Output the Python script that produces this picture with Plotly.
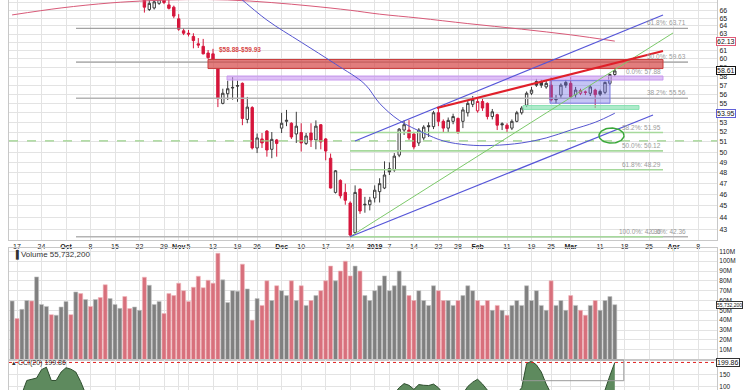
import numpy as np
import pandas as pd
import plotly.graph_objects as go

# ---------------- trading calendar ----------------
HOLIDAYS = ["2018-11-22", "2018-12-05", "2018-12-25", "2019-01-01", "2019-01-21", "2019-02-18"]
days = [d.strftime("%Y-%m-%d") for d in pd.bdate_range("2018-09-10", "2019-04-30")
        if d.strftime("%Y-%m-%d") not in HOLIDAYS]
base = days.index("2018-09-17")
pos = {d: i - base for i, d in enumerate(days)}

# ---------------- price data (Oct 23 2018 .. Mar 14 2019) ----------------
candle_dates = days[days.index("2018-10-23"):days.index("2019-03-14") + 1]
opens = [68.0, 66.1, 66.3, 66.9, 67.6, 66.7, 66.4, 64.9, 63.4, 63.1, 62.7, 61.8, 61.5, 60.7, 60.6,
         58.85, 55.0, 56.05, 56.75, 56.95, 57.2, 53.3, 54.55, 50.4, 51.3, 52.1, 50.27, 51.2, 52.4, 53.1,
         52.9, 51.8, 51.95, 50.85, 51.9, 51.2, 52.75, 51.3, 49.4, 46.2, 47.3, 46.2, 45.25, 42.7, 46.5,
         45.15, 45.1, 45.7, 46.27, 46.6, 48.4, 48.27, 49.7, 52.2, 52.2, 51.8, 50.9, 51.4, 52.65, 52.55,
         54.0, 53.1, 52.4, 53.1, 53.4, 53.1, 54.0, 54.9, 54.2, 55.2, 55.0, 53.6, 53.8, 52.85, 52.7,
         52.4, 53.1, 54.0, 54.8, 56.1, 57.4, 57.35, 56.8, 57.0, 55.5, 55.9, 57.3, 57.2, 55.95, 56.1,
         56.25, 56.1, 56.45, 56.3, 56.2, 57.2, 58.2]
highs = [68.5, 67.6, 67.6, 68.0, 68.2, 67.4, 66.6, 65.5, 63.7, 63.5, 63.1, 62.5, 62.4, 61.06, 61.2,
         58.88, 56.6, 57.5, 57.9, 57.5, 57.3, 55.7, 54.7, 51.85, 51.9, 52.2, 52.0, 51.3, 54.0, 54.3,
         53.0, 54.1, 52.9, 51.9, 52.9, 53.2, 52.8, 51.4, 49.85, 48.27, 47.4, 47.0, 45.4, 46.84, 46.56,
         45.8, 45.8, 46.84, 47.5, 49.1, 49.0, 49.9, 52.4, 53.2, 53.23, 51.9, 52.4, 52.7, 53.0, 54.2,
         54.5, 53.3, 53.5, 53.9, 53.5, 54.6, 55.3, 55.8, 55.5, 55.5, 55.1, 54.4, 53.9, 53.0, 52.9,
         53.3, 54.2, 54.7, 56.3, 56.8, 57.7, 57.6, 57.5, 57.9, 55.9, 57.2, 57.6, 57.9, 56.8, 56.6,
         56.4, 57.0, 56.6, 56.5, 57.4, 58.3, 58.8]
lows = [65.7, 65.9, 66.1, 66.7, 66.8, 66.1, 64.98, 63.4, 62.87, 62.7, 61.26, 61.3, 60.55, 60.0, 59.93,
        54.6, 54.9, 55.36, 55.4, 55.17, 52.7, 52.9, 50.25, 49.9, 50.4, 49.55, 49.4, 49.55, 51.9, 52.6,
        51.3, 50.9, 50.05, 50.7, 50.5, 50.27, 50.27, 49.2, 46.56, 46.1, 45.66, 45.1, 42.36, 42.64, 44.3,
        44.4, 44.6, 45.3, 45.3, 46.5, 47.8, 48.1, 49.5, 51.7, 51.2, 50.27, 50.6, 51.2, 51.5, 52.3,
        52.6, 52.0, 52.0, 52.8, 51.8, 52.4, 53.6, 54.6, 54.0, 54.2, 53.3, 53.3, 52.2, 52.2, 52.0,
        52.2, 53.0, 53.8, 54.6, 55.9, 56.8, 56.7, 56.6, 55.2, 55.0, 55.6, 56.7, 55.5, 55.6, 55.9,
        55.9, 55.8, 54.5, 55.8, 56.0, 57.0, 58.0]
closes = [66.4, 66.9, 67.1, 67.5, 67.0, 66.25, 65.25, 63.6, 63.1, 63.0, 62.2, 61.65, 60.6, 60.15, 59.97,
          55.5, 56.1, 56.6, 56.7, 56.9, 53.4, 54.6, 50.4, 51.4, 50.9, 50.2, 51.26, 50.85, 52.9, 53.2,
          51.5, 52.6, 50.9, 51.6, 51.2, 52.6, 51.0, 50.1, 46.6, 48.2, 45.9, 45.5, 42.5, 46.2, 44.55,
          45.1, 45.5, 46.4, 47.0, 47.8, 48.1, 49.6, 52.3, 52.75, 51.4, 50.5, 52.2, 52.5, 52.55, 54.0,
          53.1, 52.4, 53.2, 53.6, 52.0, 54.3, 55.0, 55.4, 55.2, 54.5, 53.6, 54.1, 52.7, 52.75, 52.35,
          53.1, 54.0, 54.5, 56.1, 56.45, 57.0, 57.0, 57.2, 55.36, 55.4, 57.0, 57.0, 55.7, 56.45, 56.4,
          56.2, 56.8, 55.95, 56.0, 57.3, 58.2, 58.61]

# ---------------- volume (Sep 14 2018 .. Mar 14 2019), millions ----------------
volume_dates = days[days.index("2018-09-14"):days.index("2019-03-14") + 1]
volume_m = [59.5, 41.6, 51, 60, 59.5, 84, 56, 54, 45.6, 45, 53.4, 59, 45.6, 68.7, 67, 61, 54, 61, 63, 76,
            62, 56, 52, 64, 51.8, 53.4, 50, 83.7, 75.5, 56, 59, 46.7, 67, 65, 77.6, 70, 59, 73.5, 84.7, 73,
            80.6, 77.6, 108, 81, 58, 70, 69.4, 97, 71.8,
            40, 62, 55, 80, 60, 75, 70, 65, 80, 60, 75, 55, 60, 65, 70, 80, 95, 80, 90, 100, 85, 95,
            90, 65, 60, 70, 75, 85, 70, 75, 90, 75, 65, 60, 70, 60, 55, 75, 70, 60, 60, 55, 60, 65,
            75, 70, 60, 55, 60, 50, 55, 50, 45, 55, 60, 55, 75, 60, 70, 55, 50, 80, 55, 60, 50, 65,
            55, 50, 45, 55, 60, 50, 60, 64, 55.73]
volume_down = [0, 1, 0, 0, 1, 0, 0, 0, 1, 0, 0, 0, 1, 0, 1, 0, 1, 0, 1, 1,
               0, 0, 0, 1, 1, 0, 0, 1, 0, 0, 0, 1, 1, 1, 1, 1, 1, 1, 1, 1,
               1, 1, 1, 0, 0, 0, 0, 1, 0]

# ---------------- moving averages ----------------
ma200_dates = ["2018-09-14", "2018-09-28", "2018-10-12", "2018-10-24", "2018-11-05", "2018-11-15",
               "2018-11-29", "2018-12-12", "2018-12-24", "2019-01-03", "2019-01-15", "2019-01-30",
               "2019-02-14", "2019-03-01", "2019-03-14"]
ma200 = [65.4, 66.3, 66.95, 67.25, 67.4, 67.35, 67.0, 66.55, 66.0, 65.5, 65.0, 64.3, 63.6, 62.9, 62.13]
ma50_dates = ["2018-11-19", "2018-11-28", "2018-12-10", "2018-12-19", "2018-12-28", "2019-01-03",
              "2019-01-09", "2019-01-16", "2019-01-23", "2019-01-30", "2019-02-06", "2019-02-14",
              "2019-02-22", "2019-03-01", "2019-03-08", "2019-03-14"]
ma50 = [67.9, 64.75, 62.0, 59.4, 57.1, 55.0, 53.2, 51.9, 51.1, 50.7, 50.65, 50.9, 51.4, 52.2, 53.0, 53.95]

# ---------------- CCI(20) (only the part above ~85 is visible) ----------------
cci_dates = ["2018-09-17", "2018-09-18", "2018-09-19", "2018-09-20", "2018-09-21", "2018-09-24",
             "2018-09-25", "2018-09-26", "2018-09-27", "2018-09-28", "2018-10-01", "2018-10-02",
             "2018-10-03", "2018-10-04", "2018-10-05",
             "2019-01-08", "2019-01-09", "2019-01-10", "2019-01-11", "2019-01-14", "2019-01-15",
             "2019-01-16", "2019-01-17", "2019-01-18", "2019-01-22", "2019-01-23",
             "2019-01-29", "2019-01-30", "2019-01-31", "2019-02-01", "2019-02-04", "2019-02-05", "2019-02-06",
             "2019-02-13", "2019-02-14", "2019-02-15", "2019-02-19", "2019-02-20", "2019-02-21",
             "2019-02-22", "2019-02-25",
             "2019-03-11", "2019-03-12", "2019-03-13", "2019-03-14"]
cci = [60, 70, 125, 130, 135, 170, 180, 125, 125, 160, 178, 172, 160, 120, 70,
       70, 95, 112, 105, 88, 108, 105, 104, 110, 95, 70,
       70, 100, 118, 130, 110, 85, 60,
       70, 95, 195, 205, 190, 160, 110, 70,
       60, 85, 145, 199.86]

# ---------------- axis ticks ----------------
tick_dates = ["2018-09-17", "2018-09-24", "2018-10-01", "2018-10-08", "2018-10-15", "2018-10-22",
              "2018-10-29", "2018-11-01", "2018-11-05", "2018-11-12", "2018-11-19", "2018-11-26",
              "2018-12-03", "2018-12-10", "2018-12-17", "2018-12-24", "2019-01-02", "2019-01-07",
              "2019-01-14", "2019-01-22", "2019-01-28", "2019-02-01", "2019-02-11", "2019-02-19",
              "2019-02-25", "2019-03-01", "2019-03-11", "2019-03-18", "2019-03-25", "2019-04-01",
              "2019-04-08"]
tick_text = ["17", "24", "<b>Oct</b>", "8", "15", "22", "29", "<b>Nov</b>", "5", "12", "19", "26",
             "<b>Dec</b>", "10", "17", "24", "<b>2019</b>", "7", "14", "22", "28", "<b>Feb</b>", "11", "19",
             "25", "<b>Mar</b>", "11", "18", "25", "<b>Apr</b>", "8"]
price_ticks = list(range(43, 68))
vol_ticks = [10, 20, 30, 40, 50, 60, 70, 80, 90, 100, 110]

# ---------------- drawn studies ----------------
gray_fib = [("61.8%: 63.71", 63.71), ("50.0%: 59.63", 59.63), ("38.2%: 55.56", 55.56), ("0.0%: 42.36", 42.36)]
green_fib = [("0.0%: 57.88", 57.88), ("38.2%: 51.95", 51.95), ("50.0%: 50.12", 50.12),
             ("61.8%: 48.29", 48.29), ("100.0%: 42.36", 42.36)]

W, H = 745, 390
XL, XR = 9, 717
def px2idx(px):
    return (px - 17) / 4.9

xd = [XL / W, XR / W]
xrange_ = [px2idx(XL), px2idx(XR)]
FONT = "Liberation Sans, Arial, sans-serif"

fig = go.Figure()

cx = [pos[d] for d in candle_dates]
prev = [None] + closes[:-1]
red = [True if p is None else c < p for c, p in zip(closes, prev)]

def sub(lst, mask):
    return [v for v, m in zip(lst, mask) if m]

blk = [not r for r in red]
fig.add_trace(go.Candlestick(
    x=sub(cx, blk), open=sub(opens, blk), high=sub(highs, blk), low=sub(lows, blk), close=sub(closes, blk),
    increasing=dict(line=dict(color="#3c3c3c", width=1), fillcolor="white"),
    decreasing=dict(line=dict(color="#3c3c3c", width=1), fillcolor="#3c3c3c"),
    whiskerwidth=0, showlegend=False, hoverinfo="skip"))
fig.add_trace(go.Candlestick(
    x=sub(cx, red), open=sub(opens, red), high=sub(highs, red), low=sub(lows, red), close=sub(closes, red),
    increasing=dict(line=dict(color="#d6163c", width=1), fillcolor="white"),
    decreasing=dict(line=dict(color="#d6163c", width=1), fillcolor="#d6163c"),
    whiskerwidth=0, showlegend=False, hoverinfo="skip"))

def hline(p, i0, i1, color, width, dash="solid"):
    fig.add_trace(go.Scatter(x=[i0, i1], y=[p, p], mode="lines",
                             line=dict(color=color, width=width, dash=dash),
                             showlegend=False, hoverinfo="skip"))

def rect(i0, i1, p0, p1, fill, line, lw=1):
    fig.add_trace(go.Scatter(x=[i0, i1, i1, i0, i0], y=[p0, p0, p1, p1, p0], mode="lines",
                             fill="toself", fillcolor=fill, line=dict(color=line, width=lw),
                             showlegend=False, hoverinfo="skip"))

# gray fibonacci
g0, g1 = px2idx(76), px2idx(688)
for lab, p in gray_fib:
    hline(p, g0, g1, "#8c8c8c" if p > 63 else "#b4b4b4", 1 if p > 63 else 1.6)
# green fibonacci
n0, n1 = px2idx(350), px2idx(663)
for lab, p in green_fib[1:]:
    hline(p, n0, n1, "#a6d99c", 1.6)
# dashed green line
hline(51.1, xrange_[0], xrange_[1], "#9ad28a", 1.2, "dash")

# zones
rect(px2idx(208), px2idx(663), 58.88, 59.93, "rgba(214,70,70,0.70)", "#c83c3c")
rect(px2idx(227), px2idx(663), 57.57, 58.03, "rgba(200,150,240,0.60)", "rgba(200,150,240,0.9)")
rect(px2idx(523), px2idx(639), 54.35, 54.77, "rgba(130,225,175,0.65)", "rgba(130,225,175,0.9)")
rect(px2idx(550), px2idx(610), 55.02, 57.5, "rgba(110,110,230,0.40)", "#7a7ae0")

# moving averages
fig.add_trace(go.Scatter(x=[pos[d] for d in ma200_dates], y=ma200, mode="lines",
                         line=dict(color="#d85a78", width=1, shape="spline"), showlegend=False, hoverinfo="skip"))
fig.add_trace(go.Scatter(x=[pos[d] for d in ma50_dates], y=ma50, mode="lines",
                         line=dict(color="#5555d0", width=1, shape="spline"), showlegend=False, hoverinfo="skip"))

# trend lines
def tline(i0, p0, i1, p1, color, width):
    fig.add_trace(go.Scatter(x=[i0, i1], y=[p0, p1], mode="lines", line=dict(color=color, width=width),
                             showlegend=False, hoverinfo="skip"))
tline(px2idx(350), 42.36, px2idx(673), 63.13, "#7cc96a", 1)
tline(px2idx(355), 51.09, px2idx(663), 65.39, "#5555d8", 1.2)
tline(px2idx(350), 42.36, px2idx(653), 53.76, "#5555d8", 1.2)
tline(px2idx(437), 54.50, px2idx(663), 60.93, "#e0202a", 2)

# ellipse
t = np.linspace(0, 2 * np.pi, 60)
ecx, erx = px2idx(611.5), 12.5 / 4.9
ecy, ery = np.log10(51.64), (np.log10(52.41) - np.log10(50.89)) / 2
fig.add_trace(go.Scatter(x=ecx + erx * np.cos(t), y=10 ** (ecy + ery * np.sin(t)), mode="lines",
                         line=dict(color="#3aa83a", width=1.5), showlegend=False, hoverinfo="skip"))

# volume
vx = [pos[d] for d in volume_dates]
n_pre = len(volume_dates) - len(candle_dates)
vdown = volume_down + [1 if r else 0 for r in red[len(volume_down) - n_pre:]]
vcol = ["#d8707c" if d else "#808080" for d in vdown]
vline = ["#f0b8be" if d else "#c4c4c4" for d in vdown]
fig.add_trace(go.Bar(x=vx, y=[v * 1e6 for v in volume_m], marker=dict(color=vcol, line=dict(color=vline, width=0.6)),
                     width=0.82, xaxis="x2", yaxis="y2", showlegend=False, hoverinfo="skip"))

# CCI
fig.add_trace(go.Scatter(x=[pos[d] for d in cci_dates], y=cci, mode="lines", fill="tozeroy",
                         fillcolor="#5e8a5e", line=dict(color="#2f4f2f", width=1),
                         xaxis="x3", yaxis="y3", showlegend=False, hoverinfo="skip"))

grid = "#e3e3e3"
axis_common = dict(range=xrange_, tickvals=[pos[d] for d in tick_dates], showgrid=True, gridcolor=grid,
                   gridwidth=1, zeroline=False, domain=xd, showline=True, linecolor="#c8c8c8", mirror=True,
                   automargin=False)
yaxis_common = dict(side="right", showgrid=True, gridcolor=grid, zeroline=False, ticks="", showline=True,
                    linecolor="#c8c8c8", mirror=True, automargin=False)
fig.update_layout(
    width=W, height=H, margin=dict(l=0, r=0, t=0, b=0, autoexpand=False), paper_bgcolor="white",
    plot_bgcolor="white", font=dict(family=FONT, size=7, color="#222"),
    showlegend=False,
    xaxis=dict(**axis_common, anchor="y", ticktext=tick_text, ticks="", tickangle=0,
               tickfont=dict(size=7, color="#222"), rangeslider=dict(visible=False)),
    yaxis=dict(**yaxis_common, type="log", domain=[150 / H, 1], range=[np.log10(42.09), np.log10(67.34)],
               tickvals=price_ticks, ticktext=[str(v) for v in price_ticks],
               tickfont=dict(size=7, color="#222"), anchor="x"),
    xaxis2=dict(**axis_common, anchor="y2", matches="x", showticklabels=False),
    yaxis2=dict(**yaxis_common, domain=[30.5 / H, 142 / H], range=[0, 113.4e6], anchor="x2",
                tickvals=[v * 1e6 for v in vol_ticks], ticktext=[f"{v}M" for v in vol_ticks],
                tickfont=dict(size=6.5, color="#222")),
    xaxis3=dict(**axis_common, anchor="y3", matches="x", showticklabels=False),
    yaxis3=dict(**yaxis_common, domain=[0, 30 / H], range=[85.4, 210], anchor="x3",
                tickvals=[100, 150], ticktext=["100", "150"], tickfont=dict(size=6.5, color="#222")),
)

ann = []
for lab, p in gray_fib:
    ann.append(dict(x=g1, y=np.log10(p), xref="x", yref="y", text=lab, showarrow=False, xanchor="right",
                    yanchor="bottom", font=dict(size=6.5, color="#9a9a9a")))
for lab, p in green_fib:
    ann.append(dict(x=n1, y=np.log10(p), xref="x", yref="y", text=lab, showarrow=False, xanchor="right",
                    yanchor="bottom", font=dict(size=6.5, color="#9a9a9a")))
ann.append(dict(x=px2idx(217), y=np.log10(61.06), xref="x", yref="y", text="<b>$58.88-$59.93</b>",
                showarrow=False, xanchor="left", yanchor="middle", font=dict(size=6.5, color="#d84a4a")))
for val, bc in [(62.13, "#e05a78"), (58.61, "#111111"), (53.95, "#6060d8")]:
    ann.append(dict(x=716 / W, y=np.log10(val), xref="paper", yref="y", text=f"{val:.2f}", showarrow=False,
                    xanchor="left", yanchor="middle", bgcolor="white", bordercolor=bc, borderwidth=1,
                    borderpad=0, font=dict(size=7, color="#111")))
ann.append(dict(x=716 / W, y=55.73e6, xref="paper", yref="y2", text="55,732,200", showarrow=False,
                xanchor="left", yanchor="middle", bgcolor="white", bordercolor="#333", borderwidth=1,
                borderpad=0, font=dict(size=5, color="#111")))
ann.append(dict(x=716 / W, y=199.86, xref="paper", yref="y3", text="199.86", showarrow=False,
                xanchor="left", yanchor="middle", bgcolor="white", bordercolor="#333", borderwidth=1,
                borderpad=0, font=dict(size=7, color="#111")))
ann.append(dict(x=11 / W, y=(H - 254) / H, xref="paper", yref="paper", text="\u2590 Volume 55,732,200",
                showarrow=False, xanchor="left", yanchor="middle", font=dict(size=8, color="#333")))
ann.append(dict(x=10 / W, y=(H - 363) / H, xref="paper", yref="paper", text="\u25b4 CCI(20) 199.86",
                showarrow=False, xanchor="left", yanchor="middle", font=dict(size=7, color="#333")))
fig.update_layout(annotations=ann)

fig.update_layout(shapes=[
    dict(type="line", xref="paper", x0=xd[0], x1=xd[1], yref="y3", y0=199.86, y1=199.86,
         line=dict(color="#e02020", width=1, dash="dot")),
    dict(type="rect", xref="paper", x0=521.6 / W, x1=623.8 / W, yref="paper", y0=(H - 380.7) / H, y1=(H - 360) / H,
         line=dict(color="#9a9a9a", width=1)),
])

fig.write_html("out.html", config={"displayModeBar": False},
               post_script="document.body.style.margin='0';document.body.style.padding='0';"
                           "document.body.style.overflow='hidden';")
